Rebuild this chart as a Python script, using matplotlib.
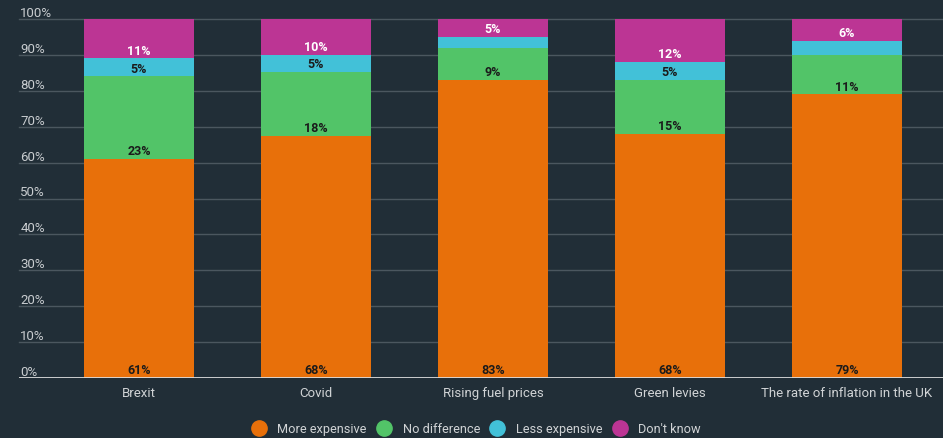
import numpy as np
import matplotlib
matplotlib.use("Agg")
import matplotlib.pyplot as plt
import matplotlib.transforms as mtrans
from matplotlib.lines import Line2D

plt.rcParams["font.family"] = ["Roboto", "DejaVu Sans"]

#------------------datos------------------#
categorias = ["Brexit", "Covid", "Rising fuel prices", "Green levies",
              "The rate of inflation in the UK"]
series = ["More expensive", "No difference", "Less expensive", "Don't know"]
more_exp = [61, 68, 83, 68, 79]
no_diff = [23, 18, 9, 15, 11]
less_exp = [5, 5, 3, 5, 4]
dont_know = [11, 10, 5, 12, 6]
y_ticks = [0, 10, 20, 30, 40, 50, 60, 70, 80, 90, 100]

colores = ["#e8700a", "#52c468", "#42c1d8", "#bc3594"]
texto_col = ["#1b1b1b", "#1b1b1b", "#1b1b1b", "#ffffff"]
fondo = "#212e37"

valores = [more_exp, no_diff, less_exp, dont_know]
datos = np.array(valores, dtype=float)
# normalizar a 100% (grafica apilada en porcentaje)
datos = datos / datos.sum(axis=0) * 100

#---------------figura---------------#
fig = plt.figure(figsize=(9.43, 4.39), dpi=100, facecolor=fondo)
ax = fig.add_axes([19 / 943, 60 / 439, 924 / 943, 359 / 439])
ax.set_facecolor(fondo)

x = np.arange(len(categorias))
ancho = 110 / 177
base = np.zeros(len(categorias))
off_lbl = mtrans.offset_copy(ax.transData, fig=fig, x=0, y=6, units="points")
for k in range(len(series)):
    ax.bar(x, datos[k], ancho, bottom=base, color=colores[k], zorder=2)
    for i in range(len(categorias)):
        valor = valores[k][i]
        if valor >= 5:
            ax.text(x[i], base[i], f"{valor}%", ha="center", va="center",
                    color=texto_col[k], fontsize=9, fontweight="bold",
                    transform=off_lbl, zorder=3)
    base = base + datos[k]

ax.set_xlim((19 - 139) / 177, (943 - 139) / 177)
ax.set_ylim(0, 100)

off_tick = mtrans.offset_copy(ax.get_yaxis_transform(), fig=fig,
                              x=0, y=0, units="points")
for t in y_ticks:
    if t > 0:
        ax.axhline(t, color="#4b575f", linewidth=1, zorder=1, clip_on=False)
    ax.text(0.0015, t, f"{t}%", transform=off_tick,
            ha="left", va="bottom", color="#c9cdd0", fontsize=9.5)

ax.axhline(0, color="#dcdcdc", linewidth=2, zorder=4)

ax.set_xticks(x)
ax.set_xticklabels(categorias, color="#d0d3d5", fontsize=9.5)
ax.tick_params(axis="x", length=0, pad=6)
ax.set_yticks([])
for s in ax.spines.values():
    s.set_visible(False)

handles = [Line2D([], [], marker="o", linestyle="", markersize=11,
                  markerfacecolor=c, markeredgecolor=c) for c in colores]
leg = fig.legend(handles, series, loc="center", ncol=4,
                 bbox_to_anchor=(476 / 943, 1 - 430 / 439), frameon=False,
                 fontsize=9.2, handletextpad=0.85, columnspacing=0.75,
                 handlelength=1.2)
for t in leg.get_texts():
    t.set_color("#d0d3d5")

fig.savefig("out.png", dpi=100, facecolor=fondo)
